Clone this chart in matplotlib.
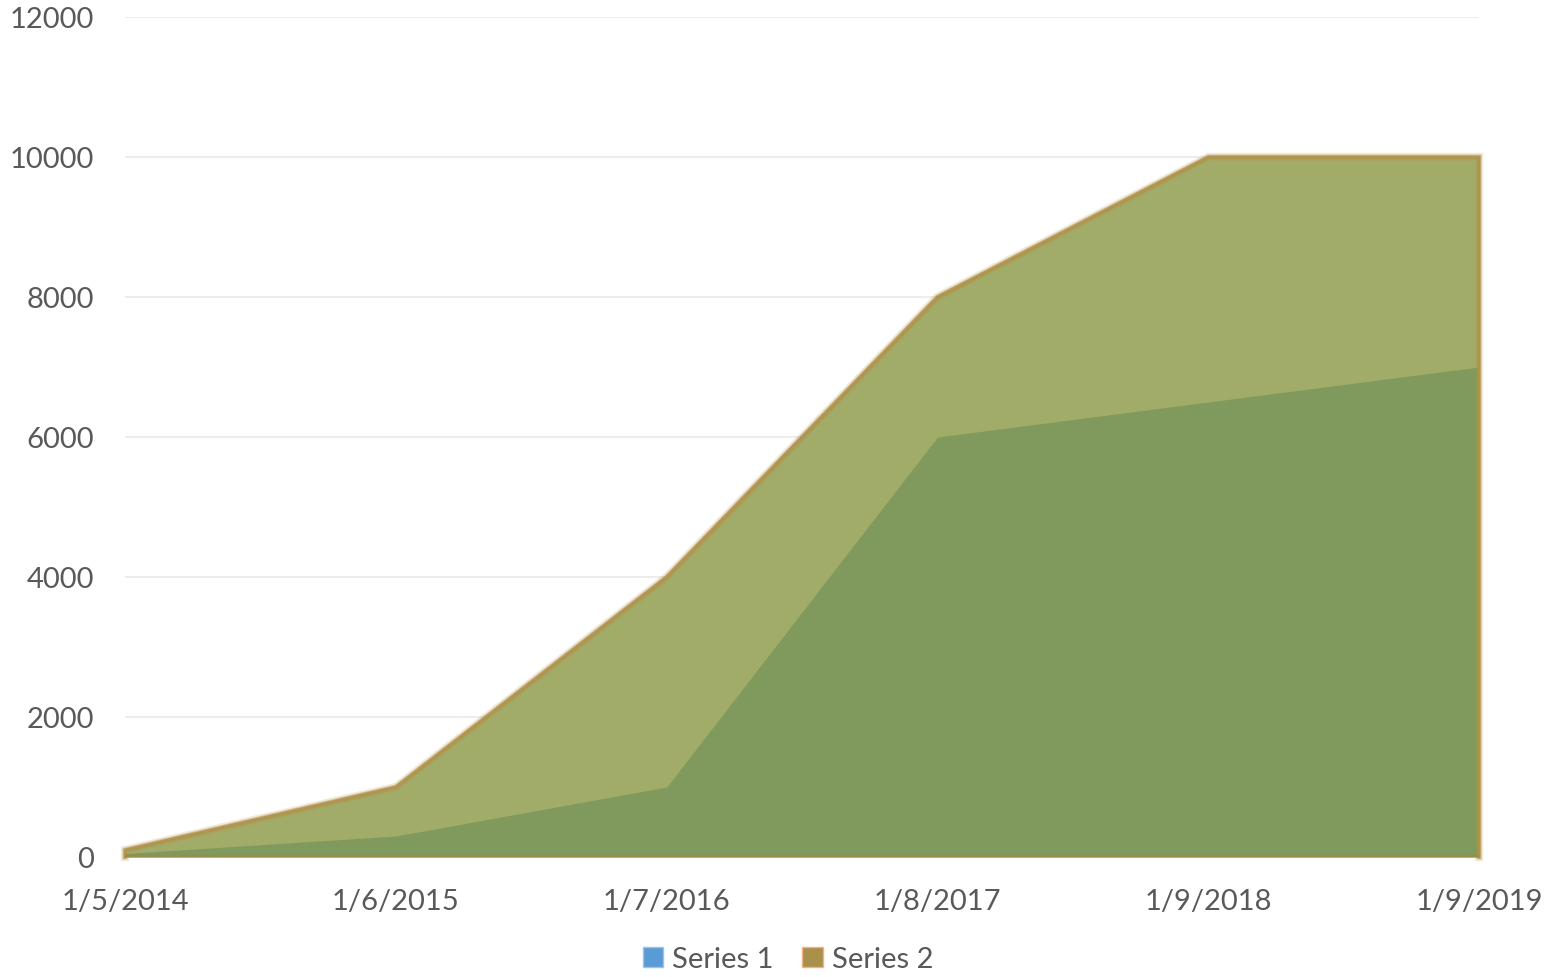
import numpy as np
import matplotlib
matplotlib.use('Agg')
import matplotlib.pyplot as plt
from matplotlib.patches import Patch

dates = ['1/5/2014', '1/6/2015', '1/7/2016', '1/8/2017', '1/9/2018', '1/9/2019']
series1 = [50, 300, 1000, 6000, 6500, 7000]
series2 = [100, 1000, 4000, 8000, 10000, 10000]
yticks = [0, 2000, 4000, 6000, 8000, 10000, 12000]

plt.rcParams['font.family'] = ['Lato', 'DejaVu Sans']

fig = plt.figure(figsize=(15.57, 9.78), dpi=100)
ax = fig.add_axes([0.0803, 0.1227, 0.8697, 0.8589])

x = np.arange(len(dates))

for y in yticks[1:]:
    ax.axhline(y, color='#EDEDED', lw=1.5, zorder=0)

# series 2 area (seen through as olive), series 1 over it (darker green)
ax.fill_between(x, 0, series2, color='#A2AC69', lw=0, zorder=1)
ax.fill_between(x, 0, series1, color='#7F9A5C', lw=0, zorder=2)

# golden soft edge of series 2
edge_x = np.concatenate([[0], x, [x[-1]]])
edge_y = np.concatenate([[0], series2, [0]])
for w, a in [(6, 0.2), (3.5, 0.5), (2, 0.9)]:
    ax.plot(edge_x, edge_y, color='#B0924A', lw=w, alpha=a, zorder=3,
            solid_joinstyle='miter', clip_on=False)
ax.plot([0, x[-1]], [0, 0], color='#A08A45', lw=3, zorder=3, alpha=0.8)
ax.axhline(0, color='#D9D9D9', lw=1.5, zorder=0)

ax.set_xlim(0, len(dates) - 1)
ax.set_ylim(0, 12000)
ax.set_xticks(x)
ax.set_xticklabels(dates)
ax.set_yticks(yticks)
ax.tick_params(length=0, labelsize=21, labelcolor='#595959')
ax.tick_params(axis='x', pad=22)
ax.tick_params(axis='y', pad=22)
for s in ax.spines.values():
    s.set_visible(False)

handles = [Patch(facecolor='#5B9BD5', edgecolor='#9DC3E6', label='Series 1'),
           Patch(facecolor='#A9904B', edgecolor='#F4B183', label='Series 2')]
fig.legend(handles=handles, loc='lower center', bbox_to_anchor=(0.506, -0.022), ncol=2,
           frameon=False, fontsize=21, labelcolor='#595959', handlelength=0.7,
           handleheight=0.7, handletextpad=0.3, columnspacing=1.0)

fig.savefig('out.png', dpi=100)
